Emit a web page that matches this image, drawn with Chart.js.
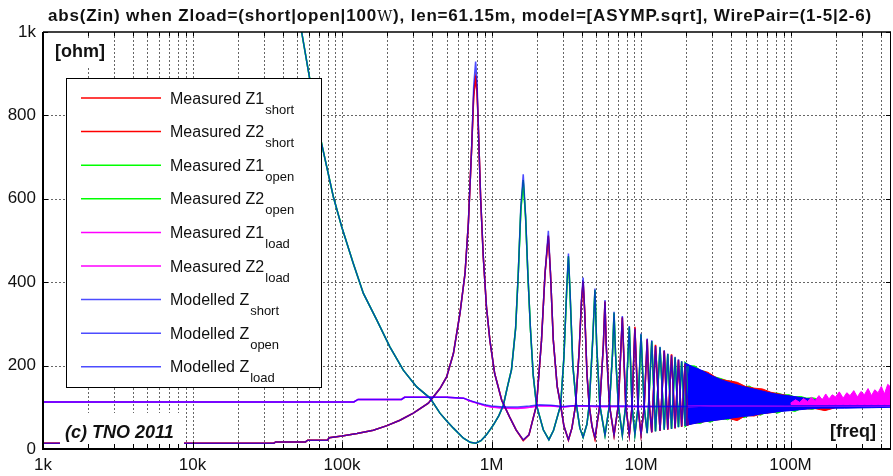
<!DOCTYPE html>
<html>
<head>
<meta charset="utf-8">
<script src="https://cdn.jsdelivr.net/npm/chart.js@4.4.0/dist/chart.umd.min.js"></script>
<style>
  html, body { margin: 0; padding: 0; background: #fff; }
  #wrap { width: 893px; height: 476px; }
</style>
</head>
<body>
<div id="wrap"><canvas id="chart" width="893" height="476"></canvas></div>
<script>
// --- data ---
// frequency in Hz, |Zin| in ohm

const shortFreq = [1e3, 35e3, 36e3, 57e3, 59e3, 80e3, 82e3, 100e3, 126e3, 162e3,
  200e3, 244e3, 300e3, 378e3, 452e3, 501e3, 556e3, 615e3, 665e3, 700e3,
  737e3, 760e3, 783e3, 800e3, 815e3, 845e3, 881e3, 925e3, 975e3, 1.05e6,
  1.17e6, 1.32e6, 1.46e6, 1.63e6, 1.78e6, 1.91e6, 2.0e6, 2.16e6, 2.28e6, 2.4e6,
  2.48e6, 2.59e6, 2.75e6, 2.9e6, 3.05e6, 3.27e6, 3.45e6, 3.65e6, 3.85e6, 4.0e6,
  4.1e6, 4.2e6, 4.35e6, 4.5e6, 4.7e6, 4.92e6, 5.3e6, 5.6e6, 5.74e6, 5.85e6,
  6.15e6, 6.6e6, 7.05e6, 7.5e6, 7.9e6, 8.35e6, 8.7e6, 9.1e6, 9.55e6, 10e6,
  10.5e6, 11e6, 11.4e6, 11.8e6, 12.5e6, 13.4e6, 14.3e6, 15.1e6, 16e6, 16.9e6,
  17.8e6, 18.7e6, 19.7e6, 20.5e6];
const shortModel = [14, 14, 17, 17, 21, 21, 27, 31, 37, 45,
  56, 69, 86, 110, 145, 173, 229, 325, 421, 541,
  725, 870, 929, 880, 781, 605, 461, 341, 261, 181,
  117, 77, 46, 22, 34, 77, 105, 261, 421, 523,
  421, 261, 150, 105, 55, 22, 50, 105, 230, 360,
  411, 330, 180, 105, 55, 28, 105, 250, 357, 250,
  105, 34, 105, 319, 105, 34, 100, 289, 100, 35,
  100, 265, 100, 40, 247, 44, 237, 47, 225, 50,
  215, 54, 205, 56];
const shortZ1 = [14, 14, 17, 17, 21, 21, 27, 31, 37, 45,
  56, 69, 86, 110, 145, 173, 229, 325, 421, 541,
  725, 850, 895, 860, 781, 605, 461, 341, 261, 181,
  117, 77, 46, 20, 34, 77, 105, 261, 421, 510,
  421, 261, 150, 105, 55, 21, 50, 105, 230, 355,
  400, 330, 180, 105, 55, 24, 105, 250, 352, 250,
  105, 32, 105, 315, 105, 33, 100, 293, 100, 34,
  100, 262, 100, 40, 250, 43, 235, 46, 227, 49,
  213, 53, 203, 55];
const shortZ2 = [14, 14, 17, 17, 21, 21, 27, 31, 37, 45,
  56, 69, 86, 110, 145, 173, 229, 325, 421, 541,
  725, 845, 888, 855, 781, 605, 461, 341, 261, 181,
  117, 77, 46, 21, 34, 77, 105, 261, 421, 512,
  421, 261, 150, 105, 55, 22, 50, 105, 230, 355,
  402, 330, 180, 105, 55, 25, 105, 250, 354, 250,
  105, 33, 105, 316, 105, 34, 100, 290, 100, 35,
  100, 263, 100, 40, 248, 44, 236, 47, 226, 50,
  214, 54, 204, 56];

const openFreq = [50e3, 53.7e3, 61e3, 73e3, 87.5e3, 99.5e3, 119e3, 139e3, 171e3, 209e3,
  257e3, 316e3, 388e3, 452e3, 500e3, 556e3, 649e3, 720e3, 783e3, 850e3,
  925e3, 1.03e6, 1.12e6, 1.2e6, 1.28e6, 1.36e6, 1.45e6, 1.51e6, 1.57e6, 1.63e6,
  1.69e6, 1.75e6, 1.82e6, 1.9e6, 2.0e6, 2.22e6, 2.42e6, 2.6e6, 2.9e6, 3.05e6,
  3.18e6, 3.27e6, 3.35e6, 3.5e6, 3.7e6, 3.9e6, 4.1e6, 4.35e6, 4.5e6, 4.75e6,
  4.92e6, 5.05e6, 5.3e6, 5.74e6, 6.15e6, 6.45e6, 6.6e6, 6.75e6, 7.05e6, 7.5e6,
  7.9e6, 8.35e6, 8.7e6, 9.1e6, 9.55e6, 10e6, 10.5e6, 11e6, 11.8e6, 12.5e6,
  13.4e6, 14.3e6, 15.1e6, 16e6, 16.9e6, 17.8e6, 18.7e6, 19.7e6, 20.5e6];
const openModel = [1080, 1000, 885, 733, 605, 533, 445, 373, 309, 245,
  189, 149, 122, 86, 68, 50, 26, 16, 14, 20,
  34, 58, 80, 105, 150, 190, 290, 421, 580, 659,
  560, 421, 290, 178, 105, 46, 22, 45, 105, 220,
  380, 469, 380, 200, 105, 50, 28, 60, 105, 260,
  385, 250, 105, 33, 105, 230, 329, 230, 105, 33,
  105, 295, 105, 35, 100, 277, 100, 38, 261, 42,
  245, 46, 229, 48, 221, 52, 211, 56, 200];
const openZ1 = [1080, 1000, 885, 733, 605, 533, 445, 373, 309, 245,
  189, 149, 122, 86, 68, 50, 26, 16, 14, 20,
  34, 58, 80, 105, 150, 190, 290, 421, 570, 640,
  555, 421, 290, 178, 105, 46, 23, 45, 105, 220,
  375, 460, 375, 200, 105, 50, 29, 60, 105, 260,
  380, 250, 105, 34, 105, 230, 325, 230, 105, 34,
  105, 292, 105, 36, 100, 274, 100, 39, 258, 43,
  243, 47, 227, 49, 219, 53, 209, 57, 198];
const openZ2 = [1080, 1000, 885, 733, 605, 533, 445, 373, 309, 245,
  189, 149, 122, 86, 68, 50, 26, 16, 14, 20,
  34, 58, 80, 105, 150, 190, 290, 421, 572, 645,
  557, 421, 290, 178, 105, 46, 22, 45, 105, 220,
  377, 463, 377, 200, 105, 50, 28, 60, 105, 260,
  382, 250, 105, 33, 105, 230, 327, 230, 105, 33,
  105, 293, 105, 35, 100, 275, 100, 38, 259, 42,
  244, 46, 228, 48, 220, 52, 210, 56, 199];

const loadFreq = [1e3, 120e3, 128e3, 250e3, 262e3, 500e3, 650e3, 720e3, 800e3, 900e3,
  1.0e6, 1.2e6, 1.5e6, 1.8e6, 2.1e6, 2.5e6, 3e6, 3.5e6, 4e6, 5e6,
  6e6, 8e6, 10e6, 15e6, 20e6, 30e6, 50e6, 100e6, 200e6, 470e6];
const loadModel = [113, 113, 119, 119, 124, 124, 122, 116, 111, 106,
  103, 101, 101, 103, 106, 105, 102, 104, 104, 103,
  103, 103, 102, 102, 102, 103, 103, 104, 104, 104];
const loadZ1 = [113, 113, 119, 119, 124, 124, 122, 115, 110, 104,
  101, 99, 98, 100, 104, 104, 101, 103, 103, 102,
  102, 102, 102, 102, 102, 103, 103, 104, 104, 104];
const loadZ2 = [113, 113, 119, 119, 124, 124, 122, 115, 110, 104,
  101, 98, 97, 100, 104, 103, 101, 103, 103, 102,
  102, 102, 102, 102, 102, 103, 103, 104, 104, 104];

// dense resonance region above ~20 MHz: envelopes of the overlapping traces
const bandFreq = [19.5e6, 22e6, 25e6, 30e6, 35e6, 40e6, 48e6, 55e6, 63e6, 70e6,
  85e6, 100e6, 130e6, 160e6, 230e6, 350e6, 470e6];
const bandHigh = [207, 198, 190, 175, 165, 158, 150, 145, 140, 136,
  130, 127, 121, 116, 114, 113, 113];
const bandLow = [56, 60, 64, 68, 71, 74, 78, 80, 84, 86,
  90, 92, 96, 98, 98, 99, 100];

const greenFreq = [19.5e6, 21e6, 23e6, 25e6, 27e6, 29e6, 32e6, 35e6, 38e6, 41e6,
  45e6, 49e6, 53e6, 58e6, 63e6, 69e6, 75e6, 82e6, 90e6, 98e6,
  107e6, 117e6, 128e6, 140e6, 153e6, 167e6, 183e6, 200e6];
const greenHigh = [210, 200, 199, 188, 186, 176, 172, 168, 163, 162,
  155, 149, 151, 143, 141, 137, 134, 134, 130, 130,
  125, 126, 122, 123, 120, 119, 118, 116];
const greenLow = [52, 60, 63, 61, 68, 64, 71, 73, 70, 76,
  79, 75, 81, 84, 81, 88, 89, 86, 92, 93,
  90, 96, 97, 95, 99, 96, 99, 100];

const redFreq = [20e6, 24e6, 28e6, 33e6, 38e6, 44e6, 50e6, 57e6, 65e6, 74e6,
  84e6, 96e6, 110e6, 125e6, 145e6, 170e6, 200e6, 240e6];
const redHigh = [203, 190, 184, 168, 164, 160, 150, 146, 144, 136,
  132, 128, 124, 121, 118, 118, 115, 114];
const redLow = [58, 63, 67, 70, 74, 68, 80, 79, 85, 87,
  91, 93, 95, 96, 97, 92, 99, 100];

const magFreq = [100e6, 108e6, 115e6, 122e6, 130e6, 138e6, 146e6, 155e6, 163e6, 172e6,
  181e6, 190e6, 200e6, 212e6, 225e6, 238e6, 250e6, 265e6, 280e6, 296e6,
  312e6, 330e6, 348e6, 366e6, 385e6, 405e6, 425e6, 447e6, 470e6];
const magHigh = [110, 118, 112, 121, 114, 124, 116, 128, 118, 132,
  120, 130, 125, 137, 122, 135, 128, 140, 125, 138,
  130, 145, 128, 142, 135, 150, 132, 155, 148];
const magLow = [104, 104, 105, 104, 105, 104, 105, 104, 105, 104,
  106, 105, 106, 105, 106, 105, 106, 105, 106, 105,
  106, 105, 106, 105, 106, 105, 106, 105, 106];

// axes
const xTickValues = [1e3, 1e4, 1e5, 1e6, 1e7, 1e8];
const xTickLabels = ['1k', '10k', '100k', '1M', '10M', '100M'];
const yTickValues = [0, 200, 400, 600, 800, 1000];
const yTickLabels = ['0', '200', '400', '600', '800', '1k'];

// legend text
const legendNames = ['Measured Z1', 'Measured Z2', 'Measured Z1', 'Measured Z2',
  'Measured Z1', 'Measured Z2', 'Modelled Z', 'Modelled Z', 'Modelled Z'];
const legendSubs = ['short', 'short', 'open', 'open', 'load', 'load', 'short', 'open', 'load'];

const titleParts = ['abs(Zin) when Zload=(short|open|100', 'W',
  '), len=61.15m, model=[ASYMP.sqrt], WirePair=(1-5|2-6)'];

// --- styles ---
const FONT = '"Liberation Sans", Arial, sans-serif';
const X_MIN = 1e3, X_MAX = 4.7e8;
const RED = 'rgb(255,0,0)';
const GREEN = 'rgb(0,255,0)';
const MAGENTA = 'rgb(255,0,255)';
const BLUE = 'rgba(0,0,255,0.7)';
const legendColors = [RED, RED, GREEN, GREEN, MAGENTA, MAGENTA, BLUE, BLUE, BLUE];

function pts(freqs, vals) {
  if (freqs.length !== vals.length) console.warn('length mismatch', freqs.length, vals.length);
  return freqs.map((f, i) => ({ x: f, y: vals[i] }));
}

function lineDs(label, data, color, order) {
  return { label, data, borderColor: color, backgroundColor: color, borderWidth: 1.5,
    pointRadius: 0, fill: false, order };
}

function bandPair(freqs, hi, lo, color, order) {
  return [
    { data: pts(freqs, hi), borderColor: color, backgroundColor: color, borderWidth: 1,
      pointRadius: 0, fill: '+1', order },
    { data: pts(freqs, lo), borderColor: color, backgroundColor: color, borderWidth: 1,
      pointRadius: 0, fill: false, order }
  ];
}

const datasets = [
  lineDs('Measured Z1 short', pts(shortFreq, shortZ1), RED, 10),
  lineDs('Measured Z2 short', pts(shortFreq, shortZ2), RED, 10),
  lineDs('Measured Z1 open', pts(openFreq, openZ1), GREEN, 10),
  lineDs('Measured Z2 open', pts(openFreq, openZ2), GREEN, 10),
  lineDs('Measured Z1 load', pts(loadFreq, loadZ1), MAGENTA, 10),
  lineDs('Measured Z2 load', pts(loadFreq, loadZ2), MAGENTA, 10),
  lineDs('Modelled Z short', pts(shortFreq, shortModel), BLUE, 5),
  lineDs('Modelled Z open', pts(openFreq, openModel), BLUE, 5),
  lineDs('Modelled Z load', pts(loadFreq, loadModel), BLUE, 5),
  ...bandPair(greenFreq, greenHigh, greenLow, GREEN, 30),
  ...bandPair(redFreq, redHigh, redLow, RED, 29),
  ...bandPair(bandFreq, bandHigh, bandLow, 'rgb(0,0,255)', 25),
  ...bandPair(magFreq, magHigh, magLow, MAGENTA, 24)
];

// all minor/major positions of the log axis (1..9 per decade)
const xGrid = [];
for (let d = 1e3; d <= 1e8; d *= 10) {
  for (let m = 1; m <= 9; m++) if (m * d <= X_MAX) xGrid.push(m * d);
}

// --- drawing helpers (grid, frame, labels, legend) ---
const decorPlugin = {
  id: 'decor',
  beforeDatasetsDraw(chart) {
    const { ctx, chartArea: a, scales } = chart;
    ctx.save();
    ctx.lineWidth = 1;
    ctx.strokeStyle = 'rgba(20,20,20,0.65)';
    ctx.setLineDash([2, 2]);
    xGrid.forEach(v => {
      if (v === X_MIN) return;
      const x = Math.round(scales.x.getPixelForValue(v)) + 0.5;
      ctx.beginPath(); ctx.moveTo(x, a.top); ctx.lineTo(x, a.bottom); ctx.stroke();
    });
    yTickValues.slice(1, -1).forEach(v => {
      const y = Math.round(scales.y.getPixelForValue(v)) + 0.5;
      ctx.beginPath(); ctx.moveTo(a.left, y); ctx.lineTo(a.right, y); ctx.stroke();
    });
    ctx.restore();
  },
  afterDatasetsDraw(chart) {
    const { ctx, chartArea: a, scales } = chart;
    ctx.save();

    // white boxes behind the corner labels
    ctx.fillStyle = '#fff';
    ctx.fillRect(60, 413, 124, 34);
    ctx.fillRect(826, 418, 53, 29);
    ctx.fillRect(52, 38, 60, 28);

    ctx.fillStyle = '#111';
    ctx.textBaseline = 'middle';
    ctx.font = 'italic bold 18px ' + FONT;
    ctx.textAlign = 'left';
    ctx.fillText('(c) TNO 2011', 65, 433);
    ctx.font = 'bold 18px ' + FONT;
    ctx.fillText('[ohm]', 55, 52);
    ctx.textAlign = 'right';
    ctx.fillText('[freq]', 876, 432);

    // legend
    const lx = 66, ly = 78, lw = 255, lh = 309;
    ctx.fillStyle = '#fff';
    ctx.fillRect(lx, ly, lw, lh);
    ctx.strokeStyle = '#000';
    ctx.lineWidth = 1;
    ctx.strokeRect(lx + 0.5, ly + 0.5, lw, lh);
    legendNames.forEach((name, i) => {
      const y = 98 + i * 33.6;
      ctx.strokeStyle = legendColors[i];
      ctx.lineWidth = 1.5;
      ctx.beginPath(); ctx.moveTo(81, y); ctx.lineTo(161, y); ctx.stroke();
      ctx.fillStyle = '#111';
      ctx.textAlign = 'left';
      ctx.textBaseline = 'alphabetic';
      ctx.font = '16px ' + FONT;
      ctx.fillText(name, 170, y + 5.5);
      const w = ctx.measureText(name).width;
      ctx.font = '13px ' + FONT;
      ctx.fillText(legendSubs[i], 170 + w + 1, y + 15.5);
    });

    // frame
    ctx.strokeStyle = '#000';
    ctx.lineWidth = 2;
    ctx.beginPath();
    ctx.moveTo(a.left, a.top); ctx.lineTo(a.left, a.bottom); ctx.lineTo(a.right, a.bottom);
    ctx.stroke();
    ctx.lineWidth = 1.5;
    ctx.beginPath(); ctx.moveTo(a.left, a.top); ctx.lineTo(a.right, a.top); ctx.stroke();
    ctx.lineWidth = 1;
    ctx.beginPath(); ctx.moveTo(a.right - 0.5, a.top); ctx.lineTo(a.right - 0.5, a.bottom); ctx.stroke();

    // inner tick marks
    ctx.lineWidth = 1;
    xGrid.forEach(v => {
      const x = Math.round(scales.x.getPixelForValue(v)) + 0.5;
      const len = xTickValues.includes(v) ? 7 : 5;
      ctx.beginPath(); ctx.moveTo(x, a.bottom); ctx.lineTo(x, a.bottom - len); ctx.stroke();
      ctx.beginPath(); ctx.moveTo(x, a.top); ctx.lineTo(x, a.top + 4); ctx.stroke();
    });
    yTickValues.forEach(v => {
      const y = Math.round(scales.y.getPixelForValue(v)) + 0.5;
      ctx.beginPath(); ctx.moveTo(a.left, y); ctx.lineTo(a.left + 5, y); ctx.stroke();
      ctx.beginPath(); ctx.moveTo(a.right, y); ctx.lineTo(a.right - 5, y); ctx.stroke();
    });
    ctx.restore();
  },
  afterDraw(chart) {
    const { ctx } = chart;
    ctx.save();
    ctx.fillStyle = '#111';
    ctx.textAlign = 'left';
    ctx.textBaseline = 'alphabetic';
    ctx.letterSpacing = '0.8px';
    let x = 48;
    titleParts.forEach((part, i) => {
      ctx.font = i === 1 ? '15px "DejaVu Serif", serif' : 'bold 17px ' + FONT;
      ctx.fillText(part, x, 21);
      x += ctx.measureText(part).width;
    });
    ctx.restore();
  }
};

const ctx = document.getElementById('chart').getContext('2d');
new Chart(ctx, {
  type: 'line',
  data: { datasets },
  options: {
    responsive: false,
    animation: false,
    devicePixelRatio: 1,
    layout: { padding: { top: 32, right: 2, left: 0, bottom: 0 } },
    plugins: { legend: { display: false }, title: { display: false }, tooltip: { enabled: false } },
    elements: { point: { radius: 0 }, line: { tension: 0 } },
    scales: {
      x: {
        type: 'logarithmic',
        min: X_MIN,
        max: X_MAX,
        afterBuildTicks: s => { s.ticks = xGrid.map(v => ({ value: v })); },
        afterFit: s => { s.height = 27; },
        grid: { display: false, drawTicks: false },
        border: { display: false },
        ticks: {
          autoSkip: false, maxRotation: 0, minRotation: 0, padding: 6, color: '#111',
          font: { family: FONT, size: 17 },
          callback: v => {
            const i = xTickValues.indexOf(v);
            return i >= 0 ? xTickLabels[i] : '';
          }
        }
      },
      y: {
        type: 'linear',
        min: 0,
        max: 1000,
        afterBuildTicks: s => { s.ticks = yTickValues.map(v => ({ value: v })); },
        afterFit: s => { s.width = 43; },
        grid: { display: false, drawTicks: false },
        border: { display: false },
        ticks: {
          padding: 7, color: '#111',
          font: { family: FONT, size: 17 },
          callback: v => yTickLabels[yTickValues.indexOf(v)]
        }
      }
    }
  },
  plugins: [decorPlugin]
});
</script>
</body>
</html>
